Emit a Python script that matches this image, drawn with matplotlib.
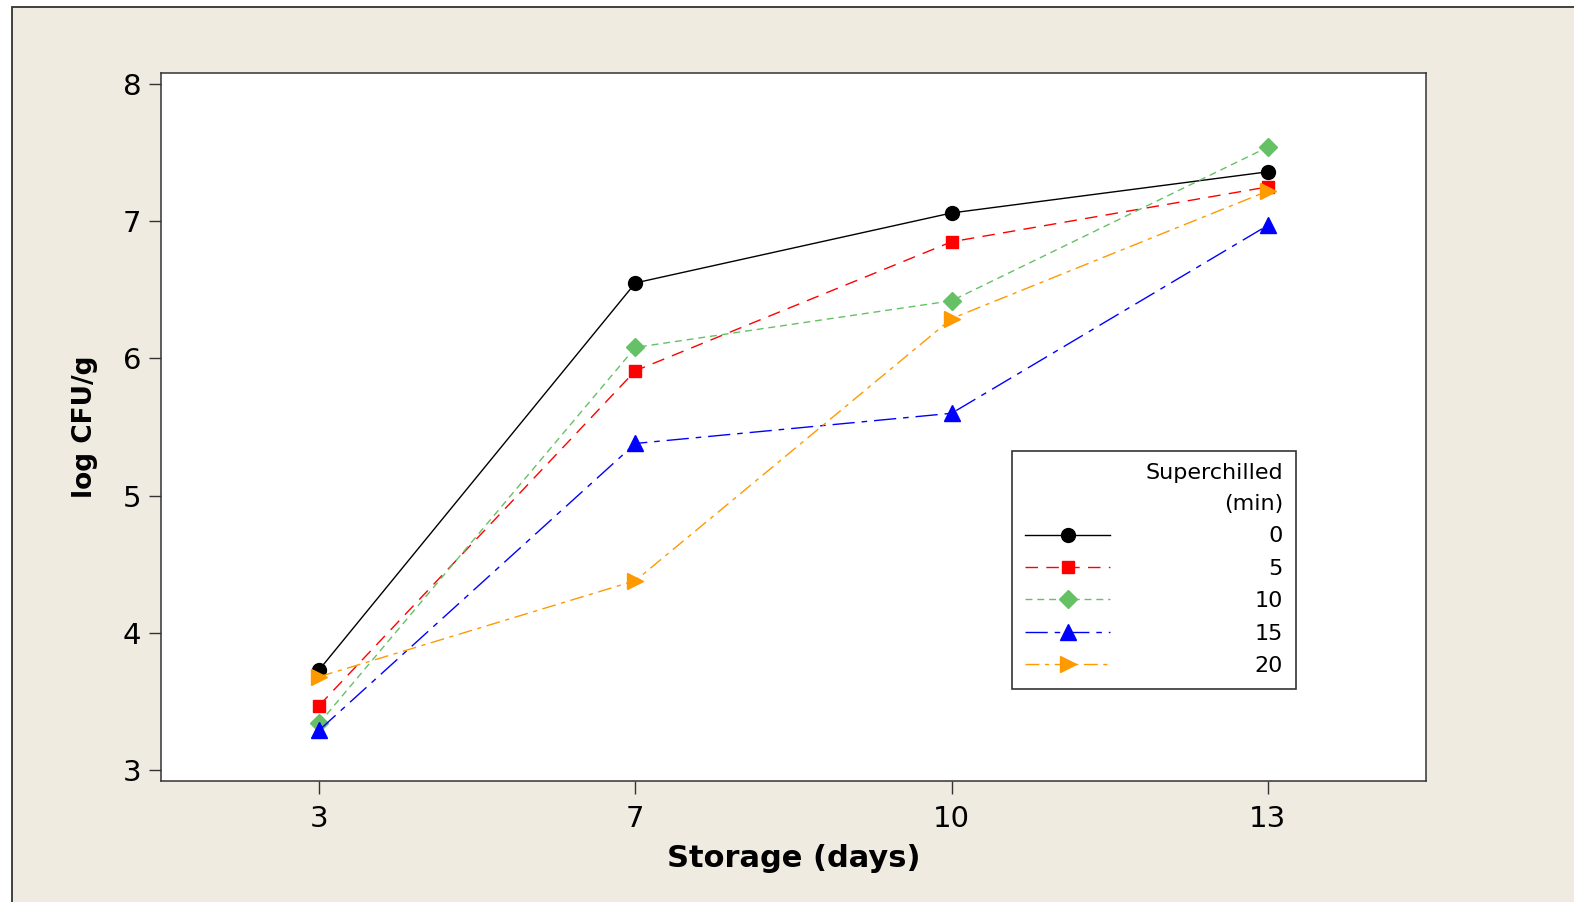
import matplotlib
matplotlib.use("Agg")
import matplotlib.pyplot as plt
from matplotlib.patches import Rectangle

# ---- data ----
days = ["3", "7", "10", "13"]
series_labels = ["0", "5", "10", "15", "20"]
v0 = [3.73, 6.55, 7.06, 7.36]
v5 = [3.47, 5.91, 6.85, 7.25]
v10 = [3.34, 6.08, 6.42, 7.54]
v15 = [3.29, 5.38, 5.60, 6.97]
v20 = [3.68, 4.38, 6.29, 7.22]
values = [v0, v5, v10, v15, v20]
y_ticks = [3, 4, 5, 6, 7, 8]

# ---- styles ----
colors = ["#000000", "#FF0000", "#66C166", "#0000FF", "#FF9900"]
markers = ["o", "s", "D", "^", ">"]
msizes = [10, 9, 9, 11, 11]
dashes = [
    "-",
    (0, (9, 6)),
    (0, (5, 3.5)),
    (0, (16, 5, 4, 5)),
    (0, (10, 4, 3, 4)),
]

plt.rcParams['font.family'] = ['DejaVu Sans']

W, H = 1574, 902
fig = plt.figure(figsize=(W / 100, H / 100), dpi=100)
fig.patch.set_facecolor("white")
bg = Rectangle((12 / W, -0.1), 1.2, (H - 7) / H + 0.1, transform=fig.transFigure,
               facecolor="#EFEBE1", edgecolor="#333333", linewidth=1.3, zorder=-10)
fig.patches.append(bg)

ax = fig.add_axes([161 / W, (H - 781) / H, (1426 - 161) / W, (781 - 73) / H])
ax.set_facecolor("white")

x = list(range(len(days)))
for vals, lab, c, m, ms, ls in zip(values, series_labels, colors, markers, msizes, dashes):
    ax.plot(x, vals, color=c, linestyle=ls, linewidth=1.0, marker=m, markersize=ms,
            markerfacecolor=c, markeredgecolor=c, label="\u2007" * (2 - len(lab)) + lab)

ax.set_xlim(-0.5, 3.5)
ax.set_ylim(2.92, 8.08)
ax.set_xticks(x)
ax.set_xticklabels(days)
ax.set_yticks(y_ticks)
ax.tick_params(axis="both", labelsize=21, length=9, width=1.0, color="#333333", direction="out")
ax.tick_params(axis="x", pad=8)
ax.tick_params(axis="y", pad=5)
for s in ax.spines.values():
    s.set_linewidth(1.1)
    s.set_color("#333333")

ax.set_xlabel("Storage (days)", fontsize=22, fontweight="bold", labelpad=8)
ax.set_ylabel("log CFU/g", fontsize=19, fontweight="bold", labelpad=18)

leg = ax.legend(title="Superchilled\n(min)", loc="lower right",
                bbox_to_anchor=((1296 - 161) / 1265, (781 - 689) / 708),
                borderaxespad=0, fontsize=16, title_fontsize=16, alignment="right",
                handlelength=3.85, handletextpad=6.5, labelspacing=0.56,
                numpoints=1, fancybox=False, framealpha=1, edgecolor="#333333",
                borderpad=0.58)
leg.get_frame().set_linewidth(1.2)
leg.get_title().set_multialignment("right")
leg.get_title().set_linespacing(1.65)

fig.savefig("out.png", dpi=100, facecolor=fig.get_facecolor())
